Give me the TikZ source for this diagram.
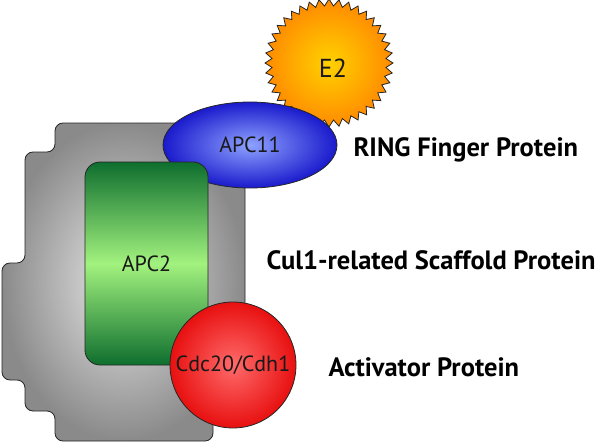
\documentclass[tikz,border=0pt]{standalone}
\usepackage{fontspec}
\setmainfont{PT Sans}
\usetikzlibrary{shapes.geometric}
\definecolor{grayin}{HTML}{E8E8E8}
\definecolor{grayout}{HTML}{8A8A8A}
\definecolor{greendark}{HTML}{0E6E2E}
\definecolor{greenlight}{HTML}{A2F27E}
\definecolor{bluein}{HTML}{8EA2FF}
\definecolor{blueout}{HTML}{1A1ACC}
\definecolor{redin}{HTML}{FF6A6A}
\definecolor{redout}{HTML}{E81010}
\definecolor{sunin}{HTML}{FFD200}
\definecolor{sunout}{HTML}{FF8A00}
\begin{document}
\begin{tikzpicture}[x=1pt,y=-1pt,
  outl/.style={draw=black!85, line width=0.8pt},
  ntext/.style={font=\fontsize{22}{26}\selectfont, text=black!90},
  lbl/.style={anchor=base west, font=\bfseries\fontsize{26.5}{30}\selectfont}]
\useasboundingbox (0,0) rectangle (600,444);
% E2 sun
\node[star, star points=40, star point ratio=1.12, minimum size=128pt, inner sep=0pt,
  outl, inner color=sunin, outer color=sunout] (e2) at (329,63) {};
\node[font=\fontsize{26}{30}\selectfont, text=black!90] (e2t) at (333,68) {E2};
% gray scaffold
\draw[outl, rounded corners=8pt, inner color=grayin, outer color=grayout]
  (55,123) -- (245,123) -- (245,340) -- (213,340) -- (213,441) -- (55,441)
  -- (55,411) -- (25,411) -- (25,380) -- (2,380) -- (2,263) -- (25,263)
  -- (25,152) -- (55,152) -- cycle;
% APC11
\node[ellipse, minimum width=174pt, minimum height=86pt, inner sep=0pt, outl,
  inner color=bluein, outer color=blueout, ntext] (apc11) at (250,145) {APC11};
% APC2
\node[rectangle, rounded corners=15pt, minimum width=123pt, minimum height=203pt,
  inner sep=0pt, outl, top color=greendark, bottom color=greendark,
  middle color=greenlight, ntext] (apc2) at (146.5,263.5) {APC2};
% Cdc20/Cdh1
\node[circle, minimum size=126pt, inner sep=0pt, outl,
  inner color=redin, outer color=redout, ntext] (cdc) at (233,365) {Cdc20/Cdh1};
% labels
\node[lbl] (ring) at (350,156) {RING Finger Protein};
\node[lbl] (cul) at (263,269) {Cul1-related Scaffold Protein};
\node[lbl] (act) at (325,376) {Activator Protein};
\end{tikzpicture}
\end{document}
